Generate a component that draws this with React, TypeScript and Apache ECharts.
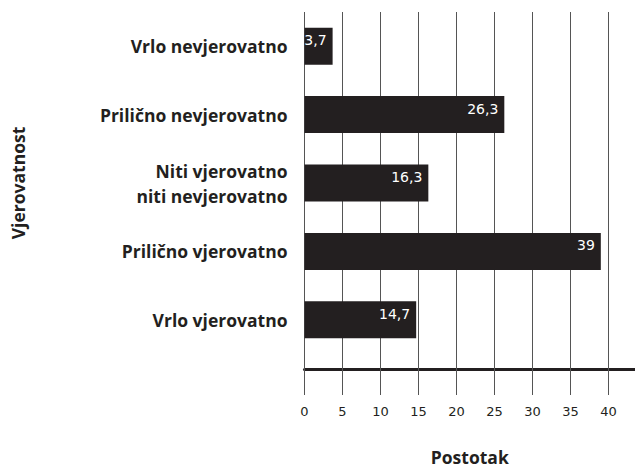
import React, { useEffect, useRef } from "react";
import * as echarts from "echarts";

const categories = [
  "Vrlo nevjerovatno",
  "Prilično nevjerovatno",
  "Niti vjerovatno\nniti nevjerovatno",
  "Prilično vjerovatno",
  "Vrlo vjerovatno",
];
const values = [3.7, 26.3, 16.3, 39, 14.7];
const xAxisName = "Postotak";
const yAxisName = "Vjerovatnost";

const INK = "#231f20";
const CAT_FONT = "Open Sans";
const NUM_FONT = "DejaVu Sans";

export default function App() {
  const ref = useRef<HTMLDivElement>(null);
  useEffect(() => {
    if (!ref.current) return;
    const chart = echarts.init(ref.current, undefined, { renderer: "svg" });
    const common = { type: "value" as const, min: 0, max: 43.5, interval: 5 };
    chart.setOption({
      animation: false,
      backgroundColor: "#ffffff",
      grid: { left: 304.5, top: 12, width: 333, height: 346 },
      xAxis: [
        {
          ...common,
          position: "bottom",
          name: xAxisName,
          nameLocation: "middle",
          nameGap: 94,
          nameTextStyle: { fontFamily: CAT_FONT, fontWeight: "bold", fontSize: 17.5, color: INK },
          axisLine: { show: false },
          axisTick: { show: true, length: 41, lineStyle: { color: "#555", width: 1 } },
          axisLabel: {
            margin: 51,
            fontFamily: NUM_FONT,
            fontSize: 13,
            color: INK,
            showMaxLabel: false,
            formatter: (v: number) => String(v),
          },
          splitLine: { show: true, lineStyle: { color: "#555", width: 1 } },
        },
        {
          ...common,
          position: "bottom",
          offset: 15,
          axisLine: { show: true, lineStyle: { color: INK, width: 3 } },
          axisTick: { show: false },
          axisLabel: { show: false },
          splitLine: { show: false },
        },
      ],
      yAxis: {
        type: "category",
        data: categories,
        inverse: true,
        name: yAxisName,
        nameLocation: "middle",
        nameGap: 278,
        nameRotate: 90,
        nameTextStyle: { fontFamily: CAT_FONT, fontWeight: "bold", fontSize: 17.5, color: INK },
        axisLine: { show: false },
        axisTick: { show: false },
        splitLine: { show: false },
        axisLabel: {
          margin: 17,
          fontFamily: CAT_FONT,
          fontWeight: "bold",
          fontSize: 17.5,
          lineHeight: 25,
          color: INK,
          align: "right",
        },
      },
      series: [
        {
          type: "bar",
          xAxisIndex: 0,
          data: values,
          barWidth: 37,
          itemStyle: { color: INK },
          label: {
            show: true,
            position: "insideRight",
            distance: 6,
            offset: [0, -6],
            fontFamily: NUM_FONT,
            fontSize: 14,
            color: "#ffffff",
            formatter: (p: any) => String(p.value).replace(".", ","),
          },
        },
      ],
    });
    return () => chart.dispose();
  }, []);
  return (
    <div
      ref={ref}
      style={{ position: "fixed", left: 0, top: 0, width: 635, height: 471 }}
    />
  );
}
